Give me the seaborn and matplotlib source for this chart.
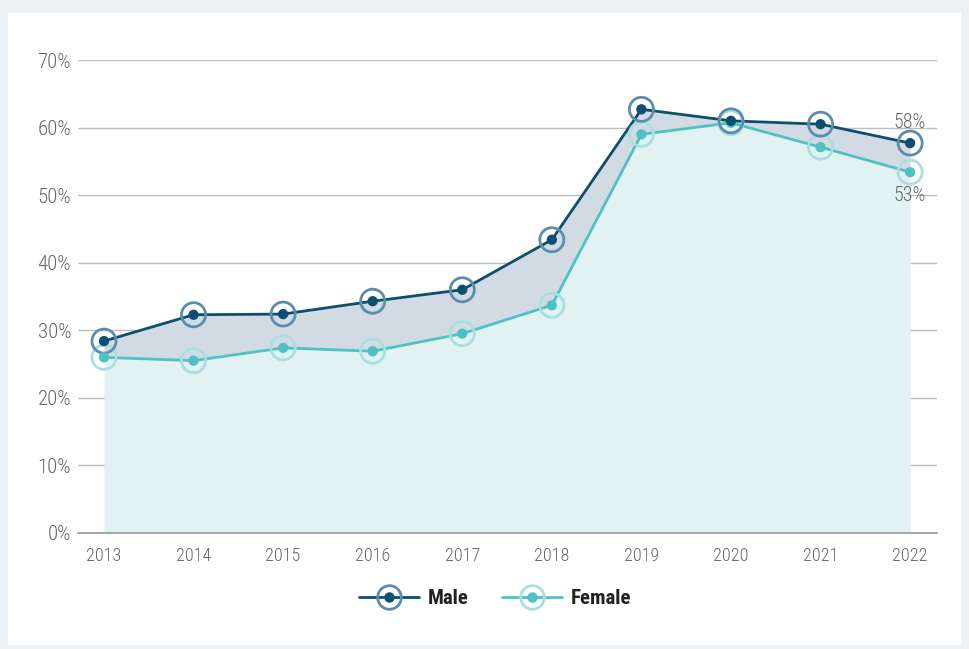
import numpy as np
import pandas as pd
import matplotlib
matplotlib.use("Agg")
import matplotlib.pyplot as plt
import seaborn as sns
from matplotlib.lines import Line2D
from matplotlib.patches import Rectangle
from matplotlib import font_manager

# ---------------- data ----------------
years  = [2013, 2014, 2015, 2016, 2017, 2018, 2019, 2020, 2021, 2022]
male   = [28.4, 32.3, 32.4, 34.3, 36.0, 43.4, 62.7, 61.0, 60.5, 57.7]
female = [26.0, 25.5, 27.4, 26.9, 29.5, 33.7, 59.0, 60.7, 57.1, 53.4]
yticks = [0, 10, 20, 30, 40, 50, 60, 70]

MALE_LINE   = "#0C4F6E"
MALE_RING   = "#5C8DAA"
FEMALE_LINE = "#4EC2C3"
FEMALE_RING = "#A9DFE0"
FILL_LOW    = "#E2F2F3"
FILL_GAP    = "#D2DBE3"

df = pd.DataFrame({"year": years, "Male": male, "Female": female})

sns.set_theme(style="white")
installed = {f.name for f in font_manager.fontManager.ttflist}
narrow = [n for n in ["Roboto Condensed", "Liberation Sans Narrow", "DejaVu Sans Condensed"]
          if n in installed]
plt.rcParams['font.family'] = narrow + ['DejaVu Sans']
plt.rcParams['font.stretch'] = 'condensed'

fig = plt.figure(figsize=(9.69, 6.49), dpi=100)
fig.patch.set_facecolor("#EDF1F4")
fig.patches.append(Rectangle((8/969, 4/649), 953/969, 632/649,
                             transform=fig.transFigure, facecolor="white",
                             edgecolor="none", zorder=-1))

ax = fig.add_axes([78/969, (649-533)/649, (937-78)/969, (533-60)/649])
ax.set_zorder(2)
ax.set_facecolor("none")

# areas
ax.fill_between(df["year"], 0, df["Female"], color=FILL_LOW, lw=0, zorder=1)
ax.fill_between(df["year"], df["Female"], df["Male"], color=FILL_GAP, lw=0, zorder=1)

# lines
sns.lineplot(data=df, x="year", y="Male", color=MALE_LINE, lw=2, ax=ax, zorder=3)
sns.lineplot(data=df, x="year", y="Female", color=FEMALE_LINE, lw=2, ax=ax, zorder=3)

# markers: ring + dot
for col, ring, dot in [("Female", FEMALE_RING, FEMALE_LINE), ("Male", MALE_RING, MALE_LINE)]:
    sns.scatterplot(data=df, x="year", y=col, s=300, facecolor="none",
                    edgecolor=ring, linewidth=2.0, ax=ax, zorder=4)
    sns.scatterplot(data=df, x="year", y=col, s=55, color=dot,
                    edgecolor="none", ax=ax, zorder=5)

# end labels
ax.text(years[-1], male[-1] + 1.7, f"{male[-1]:.0f}%", ha="center", va="bottom",
        fontsize=14.5, color="#666666", fontweight="light")
ax.text(years[-1], female[-1] - 2.0, f"{female[-1]:.0f}%", ha="center", va="top",
        fontsize=14.5, color="#666666", fontweight="light")

ax.set_xlim(2013 - 0.29, 2022 + 0.30)
ax.set_ylim(0, 70)
ax.set_xticks(years)
ax.set_xticklabels([str(y) for y in years], fontsize=13, color="#666666",
                   fontweight="light")
ax.set_yticks(yticks)
ax.set_yticklabels([f"{v}%" for v in yticks], fontsize=15, color="#666666",
                   fontweight="light")
ax.tick_params(axis="x", length=0, pad=10)
ax.tick_params(axis="y", length=0, pad=5)
ax.yaxis.grid(True, color="#BDBDBD", lw=1)
ax.set_axisbelow(True)
for s in ["top", "right", "left"]:
    ax.spines[s].set_visible(False)
ax.spines["bottom"].set_color("#999999")
ax.spines["bottom"].set_linewidth(1.2)
ax.set_xlabel("")
ax.set_ylabel("")

def handle(line_c, ring_c):
    return (Line2D([], [], color=line_c, lw=2),
            Line2D([], [], ls="none", marker="o", ms=17, mfc="none", mec=ring_c, mew=2.0),
            Line2D([], [], ls="none", marker="o", ms=7.5, mfc=line_c, mec="none"))

fig.legend([handle(MALE_LINE, MALE_RING), handle(FEMALE_LINE, FEMALE_RING)],
           ["Male", "Female"], loc="center", bbox_to_anchor=(495/969, (649-599)/649),
           ncol=2, frameon=False, handlelength=2.9, handletextpad=0.4,
           columnspacing=1.6, prop={"size": 15, "weight": "bold"},
           labelcolor="#222222")

fig.savefig("out.png", dpi=100, facecolor=fig.get_facecolor())
